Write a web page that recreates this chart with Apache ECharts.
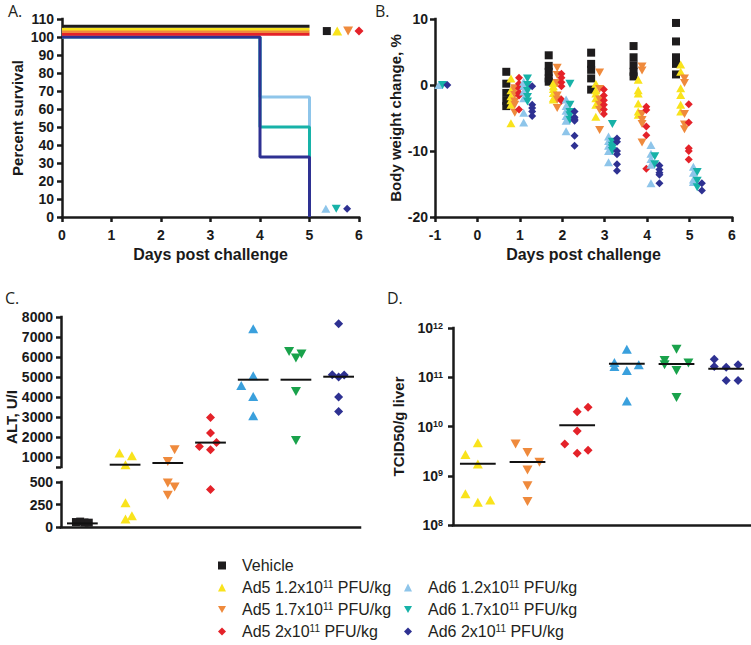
<!DOCTYPE html>
<html>
<head>
<meta charset="utf-8">
<script src="https://cdn.jsdelivr.net/npm/echarts@6.0.0/dist/echarts.min.js"></script>
<style>
html,body{margin:0;padding:0;background:#ffffff;}
#chart{width:751px;height:645px;}
</style>
</head>
<body>
<div id="chart"></div>
<script>
// ================= DATA =================
const groupNames = ['Vehicle', 'Ad5 1.2x10^11 PFU/kg', 'Ad5 1.7x10^11 PFU/kg', 'Ad5 2x10^11 PFU/kg',
                    'Ad6 1.2x10^11 PFU/kg', 'Ad6 1.7x10^11 PFU/kg', 'Ad6 2x10^11 PFU/kg'];

// Panel A: survival (%), [day, percent] (GraphPad offsets the overlapping 100% curves)
const survVehicle = [[0, 106], [5, 106]];
const survAd5_12  = [[0, 104.5], [5, 104.5]];
const survAd5_17  = [[0, 103], [5, 103]];
const survAd5_2   = [[0, 101.5], [5, 101.5]];
const survAd6_12  = [[0, 100], [4, 66.7], [5, 0]];
const survAd6_17  = [[0, 100], [4, 50], [5, 0]];
const survAd6_2   = [[0, 100], [4, 33.3], [5, 0]];
// symbol keys at the end of the curves [day, percent]
const survKeyTop    = [[5.35, 103.3], [5.56, 103.3], [5.78, 103.3], [6.0, 103.3]];
const survKeyBottom = [[5.33, 4.6], [5.54, 4.6], [5.76, 4.6]];

// Panel B: body weight change (%) per day
const bwDays = [-1, 1, 2, 3, 4, 5];
const bwVehicle = [[0], [2.0, 0.2, -1.2, -2.4, -3.2], [4.5, 2.9, 2.0, 1.0, 0.5], [4.9, 3.2, 2.3, 1.0, -0.7], [5.9, 4.2, 3.0, 2.0, 1.3], [9.4, 6.6, 4.2, 3.2, 1.6]];
const bwAd5_12 = [[0], [1.0, -0.8, -1.7, -2.3, -3.0, -5.8], [0.3, -0.2, -0.6, -1.2, -2.0, -2.2], [0.2, -0.8, -1.3, -2.0, -3.0, -4.8], [0.8, -0.8, -1.3, -2.8, -4.0, -4.5], [3.1, 2.0, -0.5, -1.5, -3.0, -4.0]];
const bwAd5_17 = [[0], [-0.5, -0.8, -1.5, -2.5, -3.0, -4.2], [2.6, 1.5, 0.3, -1.6, -2.2, -3.5], [1.9, -0.6, -2.2, -3.0, -3.8, -6.8], [2.8, 2.2, -4.4, -5.3, -5.9, -8.7], [1.0, 0.3, -4.4, -6.0, -6.7]];
const bwAd5_2  = [[0], [1.1, 0.2, -0.5, -1.2, -1.6, -3.7], [1.7, 1.1, 0.4, -0.2, -2.2, -2.4], [-0.7, -1.6, -2.3, -3.0, -3.7, -4.4], [-3.3, -3.8, -6.3, -7.6, -12.7], [-2.9, -5.7, -9.6, -10.0, -11.3]];
const bwAd6_12 = [[0], [0.5, -0.1, -1.0, -2.0, -4.2, -5.7], [-2.2, -3.2, -3.9, -4.7, -5.4, -7.0], [-7.8, -8.5, -9.2, -10.0, -11.7], [-9.1, -10.4, -11.2, -12.1, -14.9], [-12.4, -13.3, -14.3, -14.7]];
const bwAd6_17 = [[0], [1.0, 0.0, -0.9, -1.8, -2.5], [0.2, -3.0, -4.1, -4.6, -5.3], [-5.9, -8.6, -9.2, -9.6, -10.0], [-10.8, -12.0], [-13.2, -14.5, -15.5]];
const bwAd6_2  = [[0], [-0.2, -3.0, -3.5, -4.0, -4.7], [-4.0, -4.9, -5.2, -5.4, -7.7, -9.2], [-8.1, -8.6, -10.0, -10.5, -12.0, -13.0], [-12.2, -12.8, -13.3, -13.6, -14.9], [-14.9, -16.0]];

// Panel C: ALT (U/l) per group, with horizontal jitter (in group units)
const altVehicle = [55, 60, 50, 48];               const altVehicleJit = [-0.15, -0.05, 0.05, 0.15];
const altAd5_12  = [1200, 1065, 615, 270, 88, 124]; const altAd5_12Jit = [-0.13, 0.16, 0.01, 0.01, 0.01, 0.16];
const altAd5_17  = [1365, 780, 489, 445, 354];      const altAd5_17Jit = [0.16, 0, 0, 0.16, 0];
const altAd5_2   = [2980, 2200, 1730, 1530, 1365, 417]; const altAd5_2Jit = [0, 0, 0.14, -0.26, 0, 0];
const altAd6_12  = [7415, 5065, 4580, 4030, 3065];  const altAd6_12Jit = [0, 0, -0.28, 0, 0];
const altAd6_17  = [6280, 5950, 6150, 4280, 1830];  const altAd6_17Jit = [-0.16, 0, 0.13, 0, 0];
const altAd6_2   = [7665, 5115, 5000, 5100, 4000, 3280]; const altAd6_2Jit = [0, -0.15, 0, 0.13, 0, 0];
const altMedian  = [40, 615, 700, 1720, 4865, 4865, 5015];
const altBreak = 500;
const altUpperTicks = [500, 1000, 2000, 3000, 4000, 5000, 6000, 7000, 8000];
const altUpperLabels = [1000, 2000, 3000, 4000, 5000, 6000, 7000, 8000];

// Panel D: TCID50/g liver (no vehicle group)
const tcidAd5_12 = [4.7e9, 2.7e9, 1.74e9, 4.3e8, 2.9e8, 3.2e8];      const tcidAd5_12Jit = [0, -0.25, 0, -0.25, 0, 0.25];
const tcidAd5_17 = [4.4e9, 2.95e9, 1.88e9, 1.31e9, 6.3e8, 3.0e8];    const tcidAd5_17Jit = [-0.24, 0, 0.24, 0, 0, 0];
const tcidAd5_2  = [2.0e10, 2.47e10, 8.1e9, 4.4e9, 2.87e9, 3.3e9];   const tcidAd5_2Jit = [0, 0.22, 0, -0.25, 0, 0.22];
const tcidAd6_12 = [3.7e11, 2.0e11, 1.65e11, 1.79e11, 1.37e11, 3.3e10]; const tcidAd6_12Jit = [0, -0.25, -0.25, 0.24, 0, 0];
const tcidAd6_17 = [3.7e11, 2.19e11, 1.79e11, 1.94e11, 1.37e11, 3.9e10]; const tcidAd6_17Jit = [0, -0.24, -0.24, 0.24, 0, 0];
const tcidAd6_2  = [2.33e11, 1.65e11, 1.6e11, 1.79e11, 8.6e10, 8.6e10]; const tcidAd6_2Jit = [-0.24, -0.24, 0, 0.24, 0, 0.24];
const tcidMedian = [1.75e9, 1.9e9, 1.06e10, 1.87e11, 1.85e11, 1.48e11];

// ================= STYLE =================
const AX = '#1a1a1a';
const FONT = "'Liberation Sans', Arial, Helvetica, sans-serif";
const DOWN = 'path://M0,0L10,0L5,8.66Z';
const symbols = ['rect', 'triangle', DOWN, 'diamond', 'triangle', DOWN, 'diamond'];
const colorsAB = ['#1e1c1d', '#f9e31c', '#ef8a3c', '#e42229', '#8ec5ea', '#17b2a8', '#2e3192'];
const colorsCD = ['#1e1c1d', '#f9e31c', '#ef8a3c', '#e42229', '#3aa0dd', '#19a24b', '#2e3192'];
const sizeB = [8, [9, 8], [9, 8], 8, [9, 8], [9, 8], 8];
const sizeCD = [8, [10, 9], [10, 9], 9, [10, 9], [10, 9], 9];
const bOffset = [-0.32, -0.21, -0.12, -0.02, 0.09, 0.18, 0.29];

function axis(o) {
  const a = {
    type: o.type || 'value', gridIndex: o.grid, min: o.min, max: o.max,
    axisLine: {show: o.line !== false, onZero: false, lineStyle: {color: AX, width: 2.5, cap: 'square'}},
    axisTick: {show: o.tick !== false, inside: false, length: 5, lineStyle: {color: AX, width: 2.5}},
    axisLabel: {show: o.label !== false, color: AX, fontFamily: FONT, fontWeight: 'bold', fontSize: 14,
                margin: o.margin || 8, formatter: v => String(v)},
    splitLine: {show: false}
  };
  if (o.interval != null) a.interval = o.interval;
  if (o.name) {
    a.name = o.name; a.nameLocation = 'middle'; a.nameGap = o.nameGap;
    a.nameTextStyle = {color: AX, fontFamily: FONT, fontWeight: 'bold', fontSize: o.nameSize || 15};
  }
  if (o.show === false) a.show = false;
  return a;
}

const xAxes = [
  axis({grid: 0, min: 0, max: 6, interval: 1, margin: 11, name: 'Days post challenge', nameGap: 29, nameSize: 16}),
  axis({grid: 1, min: -1, max: 6, interval: 1, margin: 11, name: 'Days post challenge', nameGap: 29, nameSize: 16}),
  axis({grid: 2, min: -0.5, max: 6.5, show: false}),
  axis({grid: 3, min: -0.5, max: 6.5, tick: false, label: false}),
  axis({grid: 4, min: -0.5, max: 5.5, tick: false, label: false})
];
const yUpper = axis({grid: 2, min: 500, max: 8000, margin: 8});
yUpper.axisTick.customValues = altUpperTicks;
yUpper.axisLabel.customValues = altUpperLabels;
const yD = axis({grid: 4, type: 'log', min: 1e8, max: 1e12, margin: 10, name: 'TCID50/g liver', nameGap: 47});
yD.logBase = 10;
yD.axisLabel.formatter = v => '{b|10}{s|' + Math.round(Math.log10(v)) + '}';
yD.axisLabel.rich = {
  b: {fontFamily: FONT, fontWeight: 'bold', fontSize: 14, color: AX},
  s: {fontFamily: FONT, fontWeight: 'bold', fontSize: 9, color: AX, verticalAlign: 'top', padding: [0, 0, 4, 0]}
};
const yAxes = [
  axis({grid: 0, min: 0, max: 110, interval: 10, margin: 8, name: 'Percent survival', nameGap: 37}),
  axis({grid: 1, min: -20, max: 10, interval: 10, margin: 7, name: 'Body weight change, %', nameGap: 32}),
  yUpper,
  axis({grid: 3, min: 0, max: 500, interval: 250, margin: 8}),
  yD
];

const series = [];

// ---- Panel A ----
const survAll = [survVehicle, survAd5_12, survAd5_17, survAd5_2, survAd6_12, survAd6_17, survAd6_2];
[4, 5, 6, 3, 2, 1, 0].forEach(gi => {
  series.push({
    type: 'line', name: 'A ' + groupNames[gi], xAxisIndex: 0, yAxisIndex: 0,
    step: 'end', showSymbol: false, symbol: 'none', silent: true,
    lineStyle: {color: colorsAB[gi], width: 3}, data: survAll[gi]
  });
});
survKeyTop.forEach((p, i) => series.push({
  type: 'scatter', name: 'A key ' + i, xAxisIndex: 0, yAxisIndex: 0, clip: false, silent: true,
  symbol: symbols[i], symbolSize: sizeCD[i], itemStyle: {color: colorsAB[i], opacity: 1}, data: [p]
}));
survKeyBottom.forEach((p, i) => series.push({
  type: 'scatter', name: 'A key b' + i, xAxisIndex: 0, yAxisIndex: 0, clip: false, silent: true,
  symbol: symbols[i + 4], symbolSize: sizeB[i + 4], itemStyle: {color: colorsAB[i + 4], opacity: 1}, data: [p]
}));

// ---- Panel B ----
const bwGroups = [bwVehicle, bwAd5_12, bwAd5_17, bwAd5_2, bwAd6_12, bwAd6_17, bwAd6_2];
bwGroups.forEach((g, gi) => {
  const data = [];
  g.forEach((vals, di) => vals.forEach(v => data.push([bwDays[di] + bOffset[gi], v])));
  series.push({
    type: 'scatter', name: groupNames[gi], xAxisIndex: 1, yAxisIndex: 1,
    symbol: symbols[gi], symbolSize: sizeB[gi], itemStyle: {color: colorsAB[gi], opacity: 1}, data
  });
});

// ---- median line helper ----
function medianSeries(xi, yi, data) {
  return {
    type: 'custom', xAxisIndex: xi, yAxisIndex: yi, z: 5, silent: true, clip: false,
    renderItem: (params, api) => {
      const x = api.value(0), v = api.value(1);
      const p1 = api.coord([x - 0.36, v]), p2 = api.coord([x + 0.36, v]);
      return {type: 'line', shape: {x1: p1[0], y1: p1[1], x2: p2[0], y2: p2[1]},
              style: {stroke: '#111111', lineWidth: 2}};
    },
    data
  };
}

// ---- Panel C ----
const altGroups = [altVehicle, altAd5_12, altAd5_17, altAd5_2, altAd6_12, altAd6_17, altAd6_2];
const altJits = [altVehicleJit, altAd5_12Jit, altAd5_17Jit, altAd5_2Jit, altAd6_12Jit, altAd6_17Jit, altAd6_2Jit];
altGroups.forEach((vals, gi) => {
  const up = [], low = [];
  vals.forEach((v, k) => (v > altBreak ? up : low).push([gi + altJits[gi][k], v]));
  [[2, up], [3, low]].forEach(([ax, d]) => {
    if (!d.length) return;
    series.push({
      type: 'scatter', name: 'C ' + groupNames[gi] + ax, xAxisIndex: ax, yAxisIndex: ax,
      symbol: symbols[gi], symbolSize: sizeCD[gi], itemStyle: {color: colorsCD[gi], opacity: 1}, data: d
    });
  });
});
series.push(medianSeries(2, 2, altMedian.map((m, i) => [i, m]).filter(d => d[1] > altBreak)));
series.push(medianSeries(3, 3, altMedian.map((m, i) => [i, m]).filter(d => d[1] <= altBreak)));

// ---- Panel D ----
const tcidGroups = [tcidAd5_12, tcidAd5_17, tcidAd5_2, tcidAd6_12, tcidAd6_17, tcidAd6_2];
const tcidJits = [tcidAd5_12Jit, tcidAd5_17Jit, tcidAd5_2Jit, tcidAd6_12Jit, tcidAd6_17Jit, tcidAd6_2Jit];
tcidGroups.forEach((vals, i) => {
  const gi = i + 1;
  series.push({
    type: 'scatter', name: 'D ' + groupNames[gi], xAxisIndex: 4, yAxisIndex: 4,
    symbol: symbols[gi], symbolSize: sizeCD[gi], itemStyle: {color: colorsCD[gi], opacity: 1},
    data: vals.map((v, k) => [i + tcidJits[i][k], v])
  });
});
series.push(medianSeries(4, 4, tcidMedian.map((m, i) => [i, m])));

// ---- legend ----
const legendText = {
  fontFamily: FONT, fontSize: 16, color: '#231f20', lineHeight: 17,
  rich: {
    g: {width: 11, fontSize: 16},
    sup: {fontFamily: FONT, fontSize: 10, color: '#231f20', verticalAlign: 'top', padding: [0, 0, 2, 0]}
  }
};
const legendFmt = n => '{g| }' + n.replace('^11', '{sup|11}');
const legendBase = {orient: 'vertical', itemWidth: 8, itemHeight: 8, itemGap: 5, padding: 0,
  selectedMode: false, formatter: legendFmt, textStyle: legendText};

const option = {
  backgroundColor: '#ffffff',
  animation: false,
  grid: [
    {left: 62, top: 19, width: 297, height: 198, outerBoundsMode: 'none'},
    {left: 435, top: 19, width: 297, height: 198, outerBoundsMode: 'none'},
    {left: 61, top: 317, width: 299, height: 150, outerBoundsMode: 'none'},
    {left: 61, top: 482, width: 299, height: 45, outerBoundsMode: 'none'},
    {left: 453, top: 328, width: 298, height: 197, outerBoundsMode: 'none'}
  ],
  xAxis: xAxes,
  yAxis: yAxes,
  legend: [
    Object.assign({}, legendBase, {data: groupNames.slice(0, 4), left: 218, top: 557}),
    Object.assign({}, legendBase, {data: groupNames.slice(4), left: 404, top: 579})
  ],
  graphic: [
    {type: 'text', left: 8, top: 3, style: {text: 'A.', font: "16px 'Open Sans', sans-serif", fill: '#231f20'}},
    {type: 'text', left: 375, top: 3, style: {text: 'B.', font: "16px 'Open Sans', sans-serif", fill: '#231f20'}},
    {type: 'text', left: 5, top: 290, style: {text: 'C.', font: "16px 'Open Sans', sans-serif", fill: '#231f20'}},
    {type: 'text', left: 387, top: 290, style: {text: 'D.', font: "16px 'Open Sans', sans-serif", fill: '#231f20'}},
    {type: 'text', x: 11, y: 417, rotation: Math.PI / 2,
     style: {text: 'ALT, U/I', font: 'bold 15px ' + FONT, fill: AX,
             align: 'center', verticalAlign: 'middle', textAlign: 'center', textVerticalAlign: 'middle'}}
  ],
  series
};

const chart = echarts.init(document.getElementById('chart'), null, {renderer: 'svg'});
chart.setOption(option);
</script>
</body>
</html>
